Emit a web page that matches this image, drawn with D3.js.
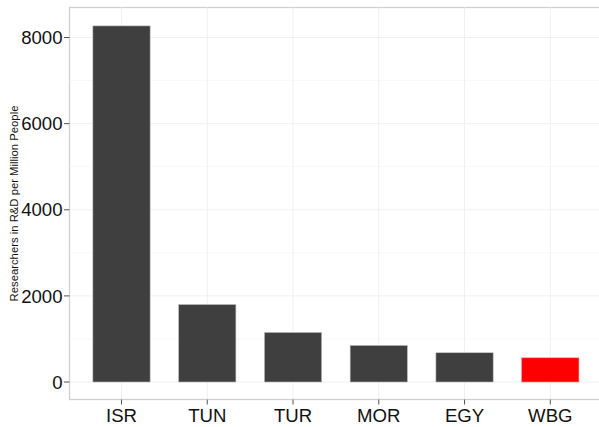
<!DOCTYPE html>
<html><head><meta charset="utf-8">
<script src="https://cdn.jsdelivr.net/npm/d3@7"></script>
<style>body{margin:0;background:#fff;} svg{display:block;font-family:"Liberation Sans",Arial,sans-serif;}</style>
</head><body>
<svg id="c" width="599" height="427"></svg>
<script>
const categories = ["ISR","TUN","TUR","MOR","EGY","WBG"];
const values = [8270, 1800, 1152, 850, 680, 562];
const highlight = ["WBG"];
const yTicks = [0, 2000, 4000, 6000, 8000];
const yMinor = [1000, 3000, 5000, 7000];
const yLabel = "Researchers in R&D per Million People";

const svg = d3.select("#c");
const panel = {left: 69.5, top: 7.5, right: 640, bottom: 399.5};

const y = d3.scaleLinear().domain([-406, 8697]).range([panel.bottom, panel.top]);
const x = d3.scalePoint().domain(categories).range([121.5, 550.3]);
const bw = x.step() * 0.668;

svg.append("rect").attr("x", panel.left).attr("y", panel.top)
  .attr("width", panel.right - panel.left).attr("height", panel.bottom - panel.top)
  .attr("fill", "#fff").attr("stroke", "#d0d0d0").attr("stroke-width", 1.3);

const g = svg.append("g");
g.selectAll(".minor").data(yMinor).join("line")
  .attr("x1", panel.left).attr("x2", panel.right)
  .attr("y1", d => y(d)).attr("y2", d => y(d))
  .attr("stroke", "#f6f6f6").attr("stroke-width", 0.8);
g.selectAll(".major").data(yTicks).join("line")
  .attr("x1", panel.left).attr("x2", panel.right)
  .attr("y1", d => y(d)).attr("y2", d => y(d))
  .attr("stroke", "#f0f0f0").attr("stroke-width", 1);
g.selectAll(".vg").data(categories).join("line")
  .attr("x1", d => x(d)).attr("x2", d => x(d))
  .attr("y1", panel.top).attr("y2", panel.bottom)
  .attr("stroke", "#f0f0f0").attr("stroke-width", 1);

g.selectAll(".bar").data(categories).join("rect")
  .attr("x", d => x(d) - bw/2)
  .attr("y", (d,i) => y(values[i]))
  .attr("width", bw)
  .attr("height", (d,i) => y(0) - y(values[i]))
  .attr("fill", d => highlight.includes(d) ? "#ff0000" : "#3f3f3f")
  .attr("stroke", d => highlight.includes(d) ? "#ff9090" : "#c0c0c0")
  .attr("stroke-width", 0.6);

// y axis
const yAx = svg.append("g");
yAx.selectAll("line").data(yTicks).join("line")
  .attr("x1", panel.left - 5.5).attr("x2", panel.left)
  .attr("y1", d => y(d)).attr("y2", d => y(d))
  .attr("stroke", "#555").attr("stroke-width", 1);
yAx.selectAll("text").data(yTicks).join("text")
  .attr("x", panel.left - 7).attr("y", d => y(d)).attr("dy", "0.36em")
  .attr("text-anchor", "end").attr("font-size", 18.6).attr("fill", "#111")
  .text(d => d);

// x axis
const xAx = svg.append("g");
xAx.selectAll("line").data(categories).join("line")
  .attr("x1", d => x(d)).attr("x2", d => x(d))
  .attr("y1", panel.bottom).attr("y2", panel.bottom + 5)
  .attr("stroke", "#555").attr("stroke-width", 1);
xAx.selectAll("text").data(categories).join("text")
  .attr("x", d => x(d)).attr("y", 422)
  .attr("text-anchor", "middle").attr("font-size", 18.6).attr("fill", "#111")
  .text(d => d);

svg.append("text").attr("transform", `translate(18,${(panel.top+panel.bottom)/2}) rotate(-90)`)
  .attr("text-anchor", "middle").attr("font-size", 11.3).attr("fill", "#111")
  .text(yLabel);
</script>
</body></html>
